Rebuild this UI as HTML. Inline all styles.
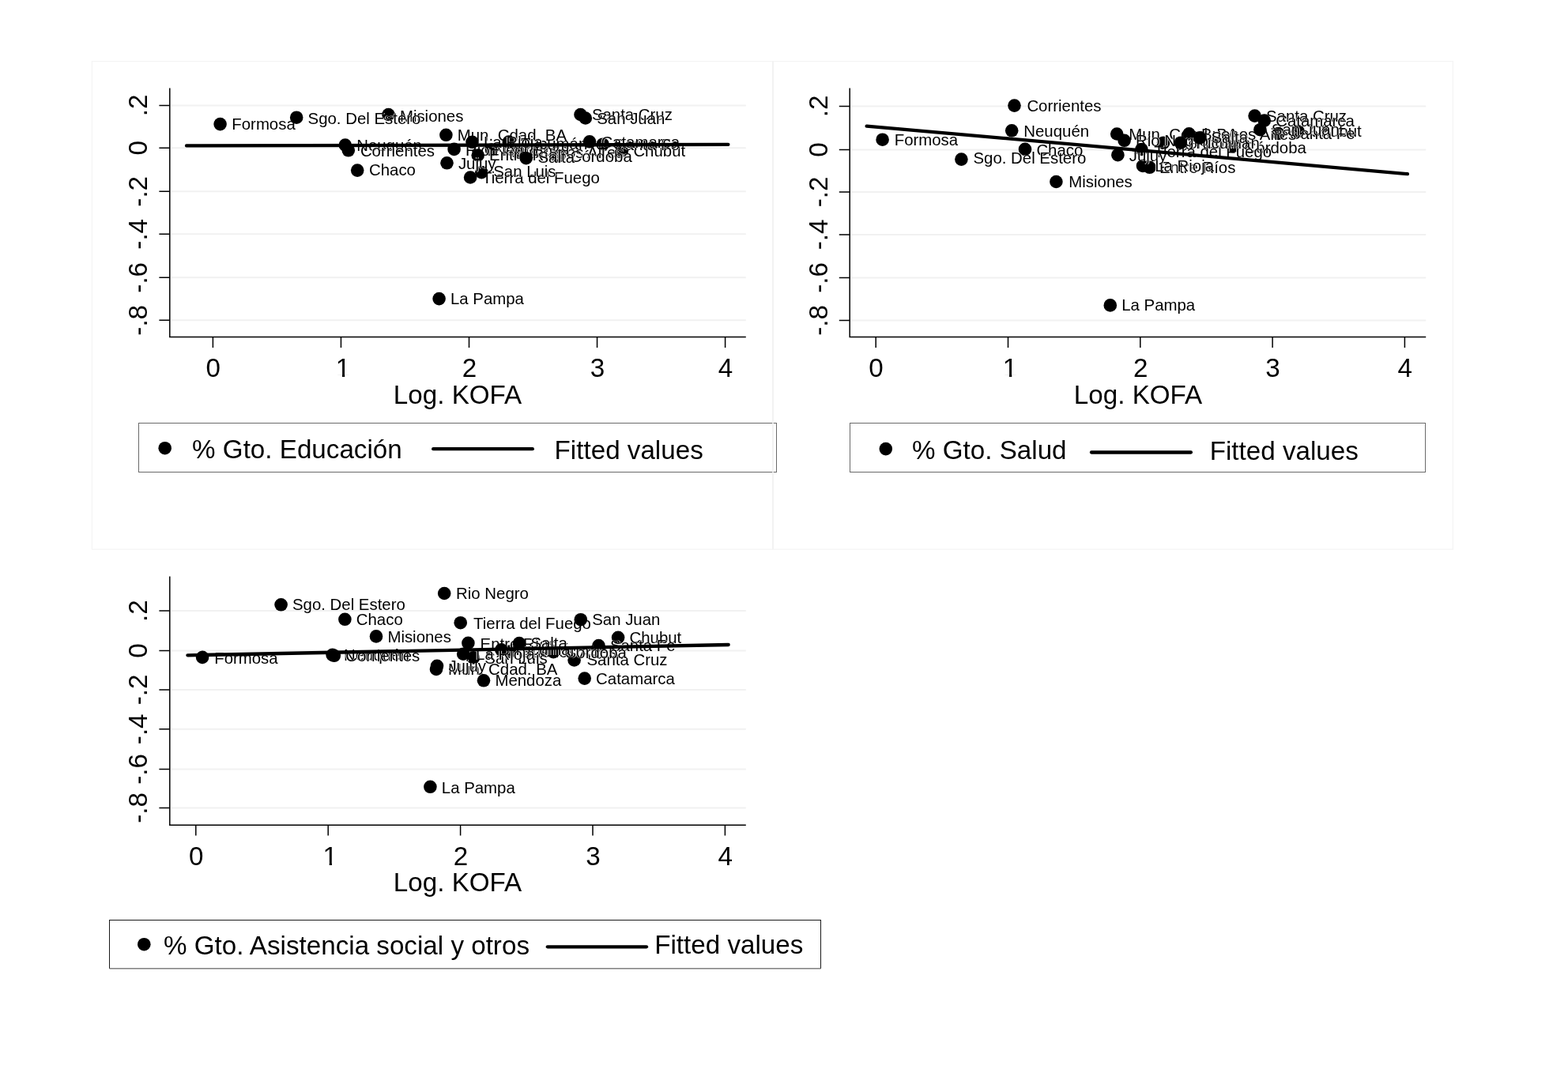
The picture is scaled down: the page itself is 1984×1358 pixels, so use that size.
<!DOCTYPE html>
<html lang="es"><head><meta charset="utf-8"><title>Log. KOFA</title>
<style>
html,body{margin:0;padding:0;background:#fff;}
body{width:1984px;height:1358px;overflow:hidden;}
svg{display:block;}
text{font-family:"Liberation Sans","DejaVu Sans",sans-serif;fill:#000;}
.l{font-size:33.2px;}
.s{font-size:20.4px;filter:url(#h);}
.g{stroke:#f1f1f1;stroke-width:2;}
.a{stroke:#000;stroke-width:1.5;fill:none;}
.f{stroke:#000;stroke-width:4.3;stroke-linecap:round;fill:none;}
</style></head><body>
<svg width="1984" height="1358" viewBox="0 0 1984 1358" role="img" aria-label="Log. KOFA">
<defs><filter id="h" x="-5%" y="-25%" width="110%" height="150%" color-interpolation-filters="sRGB"><feMorphology in="SourceAlpha" operator="dilate" radius="1 0" result="d"/><feFlood flood-color="#fff" flood-opacity="0.85"/><feComposite in2="d" operator="in" result="halo"/><feMerge><feMergeNode in="halo"/><feMergeNode in="SourceGraphic"/></feMerge></filter></defs>
<rect x="0" y="0" width="1984" height="1358" fill="#fff"/>
<g fill="none" stroke="#f4f4f4" stroke-width="1.2">
<rect x="116.4" y="77.6" width="861.6" height="617.6"/>
<rect x="978.0" y="77.6" width="860.4" height="617.6"/>
</g>
<g id="p1">
<line class="g" x1="215.4" y1="133.5" x2="943.8" y2="133.5"/>
<line class="g" x1="215.4" y1="187.3" x2="943.8" y2="187.3"/>
<line class="g" x1="215.4" y1="242.3" x2="943.8" y2="242.3"/>
<line class="g" x1="215.4" y1="296.3" x2="943.8" y2="296.3"/>
<line class="g" x1="215.4" y1="351.3" x2="943.8" y2="351.3"/>
<line class="g" x1="215.4" y1="405.3" x2="943.8" y2="405.3"/>
<circle cx="787" cy="190.6" r="8.3"/><text class="s" x="801.4" y="197.6">Chubut</text>
<circle cx="762.7" cy="182.7" r="8.3"/><text class="s" x="777.1" y="189.7">Santa Fe</text>
<circle cx="734.5" cy="145" r="8.3"/><text class="s" x="748.9" y="152">Santa Cruz</text>
<circle cx="564.4" cy="170.8" r="8.3"/><text class="s" x="578.8" y="177.8">Mun. Cdad. BA</text>
<circle cx="655" cy="192.5" r="8.3"/><text class="s" x="669.4" y="199.5">Buenos Aires</text>
<circle cx="707.1" cy="197.5" r="8.3"/><text class="s" x="721.5" y="204.5">Córdoba</text>
<circle cx="622" cy="189.5" r="8.3"/><text class="s" x="636.4" y="197.1">Mendoza</text>
<circle cx="574.6" cy="188.9" r="8.3"/><text class="s" x="589" y="197.1">Rio Negro</text>
<circle cx="595.1" cy="224.5" r="8.3"/><text class="s" x="610" y="232.2">Tierra del Fuego</text>
<circle cx="740.8" cy="149.5" r="8.3"/><text class="s" x="755.2" y="156.5">San Juan</text>
<circle cx="604.7" cy="196.5" r="8.3"/><text class="s" x="619.1" y="202.5">Entre Ríos</text>
<circle cx="643.8" cy="179.5" r="8.3"/><text class="s" x="659" y="188.5">Tucumán</text>
<circle cx="746" cy="179.3" r="8.3"/><text class="s" x="760.4" y="186.8">Catamarca</text>
<circle cx="609.3" cy="218.1" r="8.3"/><text class="s" x="624.2" y="223.8">San Luis</text>
<circle cx="597.5" cy="179.8" r="8.3"/><text class="s" x="611.9" y="186.8">La Rioja</text>
<circle cx="565.5" cy="206.3" r="8.3"/><text class="s" x="579.9" y="214">Jujuy</text>
<circle cx="665.7" cy="200.2" r="8.3"/><text class="s" x="680.5" y="206.4">Salta</text>
<circle cx="555.6" cy="378.1" r="8.3"/><text class="s" x="570" y="385.1">La Pampa</text>
<circle cx="491.5" cy="145" r="8.3"/><text class="s" x="505.9" y="154">Misiones</text>
<circle cx="452.2" cy="215.6" r="8.3"/><text class="s" x="467" y="221.6">Chaco</text>
<circle cx="278.6" cy="157.1" r="8.3"/><text class="s" x="293.3" y="164.1">Formosa</text>
<circle cx="436.8" cy="183.5" r="8.3"/><text class="s" x="451.2" y="190.5">Neuquén</text>
<circle cx="440.8" cy="190.3" r="8.3"/><text class="s" x="455.9" y="198">Corrientes</text>
<circle cx="375.2" cy="148.7" r="8.3"/><text class="s" x="389.6" y="156.9">Sgo. Del Estero</text>
<line class="f" x1="236" y1="184.4" x2="921.4" y2="182.9"/>
<path class="a" d="M214.8 111.4 V426.6 H943.8"/>
<path class="a" d="M201.4 133.5 H214.8M201.4 187.3 H214.8M201.4 242.3 H214.8M201.4 296.3 H214.8M201.4 351.3 H214.8M201.4 405.3 H214.8M269.4 426.6 V440M431.45 426.6 V440M593.5 426.6 V440M755.55 426.6 V440M917.6 426.6 V440"/>
<text class="l" text-anchor="middle" transform="translate(185.8 133.5) rotate(-90)">.2</text>
<text class="l" text-anchor="middle" transform="translate(185.8 187.3) rotate(-90)">0</text>
<text class="l" text-anchor="middle" transform="translate(185.8 242.3) rotate(-90)">-.2</text>
<text class="l" text-anchor="middle" transform="translate(185.8 296.3) rotate(-90)">-.4</text>
<text class="l" text-anchor="middle" transform="translate(185.8 351.3) rotate(-90)">-.6</text>
<text class="l" text-anchor="middle" transform="translate(185.8 405.3) rotate(-90)">-.8</text>
<text class="l" text-anchor="middle" x="269.8" y="477.2">0</text>
<text class="l" text-anchor="middle" x="434" y="477.2">1</text>
<rect x="426.3" y="474.1" width="6.67" height="3.8" fill="#fff"/><rect x="436.2" y="474.1" width="6.56" height="3.8" fill="#fff"/>
<text class="l" text-anchor="middle" x="593.9" y="477.2">2</text>
<text class="l" text-anchor="middle" x="755.95" y="477.2">3</text>
<text class="l" text-anchor="middle" x="918" y="477.2">4</text>
<text class="l" text-anchor="middle" x="579" y="510.9">Log. KOFA</text>
<rect x="175.5" y="535.5" width="807" height="62" fill="none" stroke="#6a6a6a" stroke-width="1"/>
<circle cx="208.7" cy="567.2" r="8.3"/>
<text class="l" x="243.1" y="580.2">% Gto. Educación</text>
<line class="f" x1="548.2" y1="568.2" x2="673.8" y2="568.2"/>
<text class="l" x="701.6" y="580.6">Fitted values</text>
</g>
<g id="p2">
<line class="g" x1="1075.8" y1="134.5" x2="1804.2" y2="134.5"/>
<line class="g" x1="1075.8" y1="189.5" x2="1804.2" y2="189.5"/>
<line class="g" x1="1075.8" y1="243" x2="1804.2" y2="243"/>
<line class="g" x1="1075.8" y1="297" x2="1804.2" y2="297"/>
<line class="g" x1="1075.8" y1="351.5" x2="1804.2" y2="351.5"/>
<line class="g" x1="1075.8" y1="405.5" x2="1804.2" y2="405.5"/>
<circle cx="1642.5" cy="166.2" r="8.3"/><text class="s" x="1656.9" y="173.2">Chubut</text>
<circle cx="1617.5" cy="169" r="8.3"/><text class="s" x="1631.9" y="176">Santa Fe</text>
<circle cx="1587.6" cy="146.6" r="8.3"/><text class="s" x="1602" y="154.1">Santa Cruz</text>
<circle cx="1413.2" cy="169.5" r="8.3"/><text class="s" x="1428.3" y="176.5">Mun. Cdad. BA</text>
<circle cx="1504.5" cy="169.4" r="8.3"/><text class="s" x="1520.1" y="177.1">Buenos Aires</text>
<circle cx="1560.2" cy="185.4" r="8.3"/><text class="s" x="1574.6" y="194.1">Córdoba</text>
<circle cx="1472" cy="180.8" r="8.3"/><text class="s" x="1486.4" y="187.8">Mendoza</text>
<circle cx="1422.6" cy="177.8" r="8.3"/><text class="s" x="1437" y="184.8">Rio Negro</text>
<circle cx="1444.4" cy="189" r="8.3"/><text class="s" x="1460.3" y="198.7">Tierra del Fuego</text>
<circle cx="1594.4" cy="164.2" r="8.3"/><text class="s" x="1608.8" y="171.2">San Juan</text>
<circle cx="1454.6" cy="211.8" r="8.3"/><text class="s" x="1467" y="219.3">Entre Ríos</text>
<circle cx="1493.9" cy="180.7" r="8.3"/><text class="s" x="1509.5" y="188.4">Tucumán</text>
<circle cx="1599.8" cy="152.6" r="8.3"/><text class="s" x="1614.2" y="159.6">Catamarca</text>
<circle cx="1446" cy="209.9" r="8.3"/><text class="s" x="1461.2" y="217.4">La Rioja</text>
<circle cx="1414.4" cy="196.2" r="8.3"/><text class="s" x="1428.8" y="203.9">Jujuy</text>
<circle cx="1518.1" cy="174.4" r="8.3"/><text class="s" x="1532.5" y="181.4">Salta</text>
<circle cx="1404.8" cy="386.4" r="8.3"/><text class="s" x="1419.2" y="393.4">La Pampa</text>
<circle cx="1336.4" cy="230" r="8.3"/><text class="s" x="1352.3" y="237">Misiones</text>
<circle cx="1297" cy="188.9" r="8.3"/><text class="s" x="1311.4" y="196.6">Chaco</text>
<circle cx="1116.6" cy="176.7" r="8.3"/><text class="s" x="1131.7" y="183.7">Formosa</text>
<circle cx="1280.2" cy="165.3" r="8.3"/><text class="s" x="1295.3" y="173">Neuquén</text>
<circle cx="1283.5" cy="133.6" r="8.3"/><text class="s" x="1299.4" y="140.6">Corrientes</text>
<circle cx="1216.4" cy="201.6" r="8.3"/><text class="s" x="1231.5" y="207.1">Sgo. Del Estero</text>
<line class="f" x1="1096.6" y1="159.6" x2="1780.9" y2="220.2"/>
<path class="a" d="M1075.2 111.4 V426.6 H1804.2"/>
<path class="a" d="M1061.8 134.5 H1075.2M1061.8 189.5 H1075.2M1061.8 243 H1075.2M1061.8 297 H1075.2M1061.8 351.5 H1075.2M1061.8 405.5 H1075.2M1108.2 426.6 V440M1275.5 426.6 V440M1442.8 426.6 V440M1610.1 426.6 V440M1777.4 426.6 V440"/>
<text class="l" text-anchor="middle" transform="translate(1047.2 134.5) rotate(-90)">.2</text>
<text class="l" text-anchor="middle" transform="translate(1047.2 189.5) rotate(-90)">0</text>
<text class="l" text-anchor="middle" transform="translate(1047.2 243) rotate(-90)">-.2</text>
<text class="l" text-anchor="middle" transform="translate(1047.2 297) rotate(-90)">-.4</text>
<text class="l" text-anchor="middle" transform="translate(1047.2 351.5) rotate(-90)">-.6</text>
<text class="l" text-anchor="middle" transform="translate(1047.2 405.5) rotate(-90)">-.8</text>
<text class="l" text-anchor="middle" x="1108.6" y="477.2">0</text>
<text class="l" text-anchor="middle" x="1278.05" y="477.2">1</text>
<rect x="1270.35" y="474.1" width="6.67" height="3.8" fill="#fff"/><rect x="1280.25" y="474.1" width="6.56" height="3.8" fill="#fff"/>
<text class="l" text-anchor="middle" x="1443.2" y="477.2">2</text>
<text class="l" text-anchor="middle" x="1610.5" y="477.2">3</text>
<text class="l" text-anchor="middle" x="1777.8" y="477.2">4</text>
<text class="l" text-anchor="middle" x="1440" y="510.9">Log. KOFA</text>
<rect x="1075.5" y="535.5" width="728" height="62" fill="none" stroke="#6a6a6a" stroke-width="1"/>
<circle cx="1120.8" cy="568.1" r="8.3"/>
<text class="l" x="1154" y="580.8">% Gto. Salud</text>
<line class="f" x1="1381" y1="572.5" x2="1506.9" y2="572.5"/>
<text class="l" x="1530.7" y="581.5">Fitted values</text>
</g>
<g id="p3">
<line class="g" x1="215.4" y1="773.1" x2="943.8" y2="773.1"/>
<line class="g" x1="215.4" y1="823.4" x2="943.8" y2="823.4"/>
<line class="g" x1="215.4" y1="872.9" x2="943.8" y2="872.9"/>
<line class="g" x1="215.4" y1="922.8" x2="943.8" y2="922.8"/>
<line class="g" x1="215.4" y1="973.5" x2="943.8" y2="973.5"/>
<line class="g" x1="215.4" y1="1022.5" x2="943.8" y2="1022.5"/>
<circle cx="782.1" cy="806.8" r="8.3"/><text class="s" x="796.5" y="813.8">Chubut</text>
<circle cx="757.5" cy="817" r="8.3"/><text class="s" x="771.9" y="824">Santa Fe</text>
<circle cx="726.6" cy="835.4" r="8.3"/><text class="s" x="742.5" y="842.4">Santa Cruz</text>
<circle cx="552" cy="847" r="8.3"/><text class="s" x="567.1" y="854">Mun. Cdad. BA</text>
<circle cx="645.3" cy="824.6" r="8.3"/><text class="s" x="659.7" y="831.6">Buenos Aires</text>
<circle cx="700.2" cy="825.2" r="8.3"/><text class="s" x="714.6" y="832.9">Córdoba</text>
<circle cx="612" cy="861.3" r="8.3"/><text class="s" x="626.4" y="868.3">Mendoza</text>
<circle cx="562.2" cy="751" r="8.3"/><text class="s" x="577.1" y="758">Rio Negro</text>
<circle cx="582.7" cy="788.2" r="8.3"/><text class="s" x="599.1" y="795.6">Tierra del Fuego</text>
<circle cx="734.8" cy="784.2" r="8.3"/><text class="s" x="749.2" y="791.2">San Juan</text>
<circle cx="592.4" cy="813.9" r="8.3"/><text class="s" x="607.6" y="821.6">Entre Ríos</text>
<circle cx="634.3" cy="822.3" r="8.3"/><text class="s" x="648.7" y="829.3">Tucumán</text>
<circle cx="739.7" cy="858.6" r="8.3"/><text class="s" x="754.1" y="865.6">Catamarca</text>
<circle cx="598.9" cy="832.4" r="8.3"/><text class="s" x="613.3" y="840.1">San Luis</text>
<circle cx="586.2" cy="827.7" r="8.3"/><text class="s" x="602.1" y="834.7">La Rioja</text>
<circle cx="553" cy="842.8" r="8.3"/><text class="s" x="567.4" y="849.8">Jujuy</text>
<circle cx="657" cy="814.1" r="8.3"/><text class="s" x="671.4" y="821.1">Salta</text>
<circle cx="544.4" cy="995.8" r="8.3"/><text class="s" x="558.8" y="1003.6">La Pampa</text>
<circle cx="476" cy="805.4" r="8.3"/><text class="s" x="490.4" y="813.1">Misiones</text>
<circle cx="436.4" cy="783.8" r="8.3"/><text class="s" x="450.8" y="790.8">Chaco</text>
<circle cx="256.1" cy="831.9" r="8.3"/><text class="s" x="271.2" y="839.6">Formosa</text>
<circle cx="420.6" cy="828.8" r="8.3"/><text class="s" x="435" y="835.8">Neuquén</text>
<circle cx="422.8" cy="829.8" r="8.3"/><text class="s" x="437.2" y="836.8">Corrientes</text>
<circle cx="355.6" cy="765.3" r="8.3"/><text class="s" x="370" y="772.3">Sgo. Del Estero</text>
<line class="f" x1="237.4" y1="829.3" x2="921.7" y2="816"/>
<path class="a" d="M214.8 729.6 V1044.2 H943.8"/>
<path class="a" d="M201.4 773.1 H214.8M201.4 823.4 H214.8M201.4 872.9 H214.8M201.4 922.8 H214.8M201.4 973.5 H214.8M201.4 1022.5 H214.8M247.8 1044.2 V1057.6M415.2 1044.2 V1057.6M582.6 1044.2 V1057.6M750 1044.2 V1057.6M917.4 1044.2 V1057.6"/>
<text class="l" text-anchor="middle" transform="translate(185.8 773.1) rotate(-90)">.2</text>
<text class="l" text-anchor="middle" transform="translate(185.8 823.4) rotate(-90)">0</text>
<text class="l" text-anchor="middle" transform="translate(185.8 872.9) rotate(-90)">-.2</text>
<text class="l" text-anchor="middle" transform="translate(185.8 922.8) rotate(-90)">-.4</text>
<text class="l" text-anchor="middle" transform="translate(185.8 973.5) rotate(-90)">-.6</text>
<text class="l" text-anchor="middle" transform="translate(185.8 1022.5) rotate(-90)">-.8</text>
<text class="l" text-anchor="middle" x="248.2" y="1094.6">0</text>
<text class="l" text-anchor="middle" x="417.75" y="1094.6">1</text>
<rect x="410.05" y="1091.5" width="6.67" height="3.8" fill="#fff"/><rect x="419.95" y="1091.5" width="6.56" height="3.8" fill="#fff"/>
<text class="l" text-anchor="middle" x="583" y="1094.6">2</text>
<text class="l" text-anchor="middle" x="750.4" y="1094.6">3</text>
<text class="l" text-anchor="middle" x="917.8" y="1094.6">4</text>
<text class="l" text-anchor="middle" x="579" y="1127.8">Log. KOFA</text>
<rect x="138.5" y="1164.5" width="900" height="61" fill="none" stroke="#1a1a1a" stroke-width="1"/>
<line x1="138.5" y1="1226" x2="1038.5" y2="1226" stroke="#a6a6a6" stroke-width="1.6"/>
<circle cx="182.3" cy="1195.2" r="8.3"/>
<text class="l" x="207" y="1207.8">% Gto. Asistencia social y otros</text>
<line class="f" x1="692.8" y1="1198.3" x2="818" y2="1198.3"/>
<text class="l" x="828.2" y="1207.2">Fitted values</text>
</g>
<line x1="978" y1="77.6" x2="978" y2="695.2" stroke="#f2f2f2" stroke-width="1.6"/>
</svg></body></html>
